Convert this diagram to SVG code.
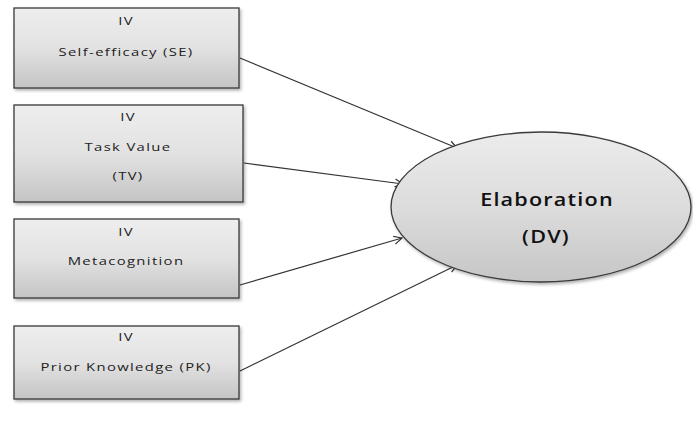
<svg xmlns="http://www.w3.org/2000/svg" width="693" height="423" viewBox="0 0 693 423">
  <defs>
    <linearGradient id="boxFill" x1="0" y1="0" x2="0" y2="1">
      <stop offset="0" stop-color="#eeeeee"/>
      <stop offset="0.5" stop-color="#e2e2e2"/>
      <stop offset="1" stop-color="#c4c4c4"/>
    </linearGradient>
    <linearGradient id="ovalFill" x1="0" y1="0" x2="0" y2="1">
      <stop offset="0" stop-color="#ececec"/>
      <stop offset="0.5" stop-color="#dcdcdc"/>
      <stop offset="1" stop-color="#c6c6c6"/>
    </linearGradient>
    <filter id="shadow" x="-10%" y="-10%" width="125%" height="130%">
      <feDropShadow dx="1.5" dy="2" stdDeviation="1.5" flood-color="#000" flood-opacity="0.3"/>
    </filter>
    <marker id="open" viewBox="0 0 10 10" refX="9" refY="5" markerWidth="10" markerHeight="10" markerUnits="userSpaceOnUse" orient="auto">
      <path d="M1,1 L9,5 L1,9" fill="none" stroke="#333" stroke-width="1.2"/>
    </marker>
    <style>
      .box { fill: url(#boxFill); stroke: #3a3a3a; stroke-width: 1.3; filter: url(#shadow); }
      .oval { fill: url(#ovalFill); stroke: #3a3a3a; stroke-width: 1.3; filter: url(#shadow); }
      .lbl { font-family: "Open Sans", "DejaVu Sans", sans-serif; font-size: 11px; letter-spacing: 1px; fill: #222; text-anchor: middle; }
      .big { font-family: "Open Sans", "DejaVu Sans", sans-serif; font-size: 18px; letter-spacing: 1px; fill: #111; text-anchor: middle; font-weight: 600; }
      .conn { stroke: #333; stroke-width: 1.2; fill: none; marker-end: url(#open); }
    </style>
  </defs>
  <rect width="693" height="423" fill="#ffffff"/>

  <g id="connectors">
    <line class="conn" x1="240" y1="58" x2="457" y2="148"/>
    <line class="conn" x1="244" y1="163" x2="403" y2="184"/>
    <line class="conn" x1="240" y1="285" x2="402" y2="238"/>
    <line class="conn" x1="240" y1="371" x2="457" y2="265"/>
  </g>

  <g id="node-se">
    <rect class="box" x="14" y="8" width="225" height="80"/>
    <text class="lbl" transform="translate(126,25) scale(1.35,1)">IV</text>
    <text class="lbl" transform="translate(126,56) scale(1.35,1)">Self-efficacy (SE)</text>
  </g>

  <g id="node-tv">
    <rect class="box" x="14" y="105" width="229" height="97"/>
    <text class="lbl" transform="translate(128,121) scale(1.35,1)">IV</text>
    <text class="lbl" transform="translate(128,151) scale(1.35,1)">Task Value</text>
    <text class="lbl" transform="translate(128,180) scale(1.35,1)">(TV)</text>
  </g>

  <g id="node-meta">
    <rect class="box" x="14" y="219" width="225" height="79"/>
    <text class="lbl" transform="translate(126,236) scale(1.35,1)">IV</text>
    <text class="lbl" transform="translate(126,265) scale(1.35,1)">Metacognition</text>
  </g>

  <g id="node-pk">
    <rect class="box" x="14" y="326" width="225" height="73"/>
    <text class="lbl" transform="translate(126,341) scale(1.35,1)">IV</text>
    <text class="lbl" transform="translate(126,371) scale(1.35,1)">Prior Knowledge (PK)</text>
  </g>

  <g id="node-elab">
    <ellipse class="oval" cx="541" cy="207" rx="150" ry="75"/>
    <text class="big" transform="translate(547,206) scale(1.2,1)">Elaboration</text>
    <text class="big" transform="translate(546,243) scale(1.2,1)" letter-spacing="2.5">(DV)</text>
  </g>
</svg>
